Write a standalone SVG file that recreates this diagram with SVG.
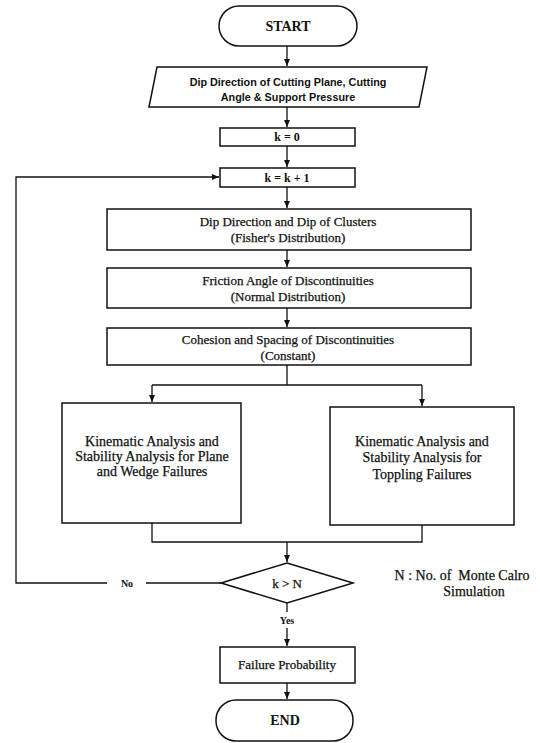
<svg xmlns="http://www.w3.org/2000/svg" width="540" height="743" viewBox="0 0 540 743">
<defs>
<marker id="ah" markerWidth="8" markerHeight="8" refX="7" refY="4" orient="auto" markerUnits="userSpaceOnUse">
<path d="M0,1 L7,4 L0,7 Z" fill="#111"/>
</marker>
<style>
.s{fill:#fff;stroke:#111;stroke-width:1.5}
.c{fill:none;stroke:#111;stroke-width:1.3}
.t{font-family:"Liberation Serif","Times New Roman",serif;font-size:13px;fill:#111;stroke:#111;stroke-width:0.25;text-anchor:middle}
.b{font-weight:bold;stroke-width:0}
.k{font-size:14px}
.a{font-family:"Liberation Sans",Arial,sans-serif;font-size:10.8px;font-weight:bold;fill:#111;text-anchor:middle}
</style>
</defs>
<rect width="540" height="743" fill="#fff"/>
<g id="connectors">
<path class="c" d="M287,46 V66" marker-end="url(#ah)"/>
<path class="c" d="M287,107 V127" marker-end="url(#ah)"/>
<path class="c" d="M287,146 V167" marker-end="url(#ah)"/>
<path class="c" d="M287,187 V208" marker-end="url(#ah)"/>
<path class="c" d="M287,250 V267" marker-end="url(#ah)"/>
<path class="c" d="M287,308 V327" marker-end="url(#ah)"/>
<path class="c" d="M287,365 V385 M152,385 H422"/>
<path class="c" d="M152,385 V402" marker-end="url(#ah)"/>
<path class="c" d="M422,385 V406" marker-end="url(#ah)"/>
<path class="c" d="M152,523 V542 H422 V525"/>
<path class="c" d="M287,542 V562" marker-end="url(#ah)"/>
<path class="c" d="M221,583 H146"/>
<path class="c" d="M107,583 H16 V177 H219" marker-end="url(#ah)"/>
<path class="c" d="M287,603 V612"/>
<path class="c" d="M287,628 V646" marker-end="url(#ah)"/>
<path class="c" d="M287,683 V699" marker-end="url(#ah)"/>
<text class="t b" x="127" y="587" style="font-size:10px">No</text>
<text class="t b" x="287" y="624" style="font-size:10px">Yes</text>
</g>
<g id="start">
<rect class="s" x="219" y="6" width="138" height="40" rx="20"/>
<text class="t b k" x="288" y="31">START</text>
</g>
<g id="input">
<polygon class="s" points="157,67 427,67 419,107 149,107"/>
<text class="a" x="288" y="86">Dip Direction of Cutting Plane, Cutting</text>
<text class="a" x="288" y="101">Angle &amp; Support Pressure</text>
</g>
<g id="k0">
<rect class="s" x="220" y="128" width="135" height="18"/>
<text class="t b" x="287" y="141" style="font-size:12px">k = 0</text>
</g>
<g id="kinc">
<rect class="s" x="220" y="168" width="135" height="19"/>
<text class="t b" x="287" y="182" style="font-size:12px">k = k + 1</text>
</g>
<g id="dip">
<rect class="s" x="107" y="209" width="364" height="41"/>
<text class="t" x="288" y="226">Dip Direction and Dip of Clusters</text>
<text class="t" x="288" y="242">(Fisher's Distribution)</text>
</g>
<g id="friction">
<rect class="s" x="107" y="268" width="364" height="40"/>
<text class="t" x="288" y="285">Friction Angle of Discontinuities</text>
<text class="t" x="288" y="301">(Normal Distribution)</text>
</g>
<g id="cohesion">
<rect class="s" x="107" y="328" width="364" height="37"/>
<text class="t" x="288" y="344">Cohesion and Spacing of Discontinuities</text>
<text class="t" x="288" y="360">(Constant)</text>
</g>
<g id="plane">
<rect class="s" x="62" y="403" width="179" height="120"/>
<text class="t k" x="152" y="446">Kinematic Analysis and</text>
<text class="t k" x="152" y="461">Stability Analysis for Plane</text>
<text class="t k" x="152" y="476">and Wedge Failures</text>
</g>
<g id="toppling">
<rect class="s" x="330" y="407" width="184" height="118"/>
<text class="t k" x="422" y="446">Kinematic Analysis and</text>
<text class="t k" x="422" y="462">Stability Analysis for</text>
<text class="t k" x="422" y="479">Toppling Failures</text>
</g>
<g id="decision">
<polygon class="s" points="287,563 353,583 287,603 221,583"/>
<text class="t" x="287" y="588">k &gt; N</text>
</g>
<g id="note">
<text class="t k" x="462" y="580">N : No. of&#160; Monte Calro</text>
<text class="t k" x="474" y="596">Simulation</text>
</g>
<g id="failure">
<rect class="s" x="220" y="647" width="135" height="36"/>
<text class="t" x="287" y="669">Failure Probability</text>
</g>
<g id="end">
<rect class="s" x="216" y="700" width="137" height="41" rx="20"/>
<text class="t b k" x="285" y="725">END</text>
</g>
</svg>
